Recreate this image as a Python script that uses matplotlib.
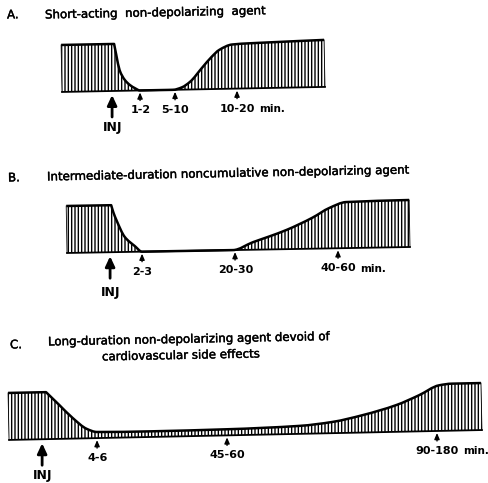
"""Schematic twitch-depression time courses for three non-depolarizing agents."""
import numpy as np
import matplotlib
matplotlib.use("Agg")
import matplotlib.pyplot as plt
import matplotlib.patheffects as pe
from matplotlib.path import Path
from matplotlib.patches import PathPatch
from matplotlib.transforms import Affine2D

W, H = 489, 483      # output size in px
HP = 47              # px height of the control (100 %) twitch
PX = 100.0 / HP      # % per px

# schematic time position and twitch height (% of control)
a_t = [62, 115, 117, 120, 125, 130, 135, 140, 173, 182, 190, 203, 212, 220, 233, 270, 325]
a_tw = [100, 100, 76, 44, 23, 12, 5, 0, 0, 5, 16, 47, 68, 83, 94, 97, 100]
a_inj = 112
a_marks = [140, 175, 237]
a_labels = ["1-2", "5-10", "10-20"]

b_t = [67, 112, 114, 117, 125, 135, 142, 233, 253, 270, 287, 313, 330, 347, 410]
b_tw = [100, 100, 85, 68, 32, 12, 0, 0, 16, 28, 41, 66, 86, 98, 100]
b_inj = 110
b_marks = [142, 235, 338]
b_labels = ["2-3", "20-30", "40-60"]

c_t = [9, 47, 60, 73, 87, 97, 150, 227, 300, 333, 363, 397, 420, 440, 453, 482]
c_tw = [100, 100, 72, 44, 20, 13, 12, 13, 17, 24, 37, 57, 77, 97, 100, 100]
c_inj = 42
c_marks = [97, 227, 437]
c_labels = ["4-6", "45-60", "90-180"]

titles = [
    ("A.", "Short-acting  non-depolarizing  agent"),
    ("B.", "Intermediate-duration noncumulative non-depolarizing agent"),
    ("C.", "Long-duration non-depolarizing agent devoid of"),
]
title_c2 = "cardiovascular side effects"

fig = plt.figure(figsize=(W / 100, H / 100), dpi=100)
heavy = [pe.withStroke(linewidth=0.3, foreground="black")]


def ftext(x, y, s, **kw):
    return fig.text(x / W, 1 - y / H, s, rotation=1.1, rotation_mode="anchor",
                    va="center", color="black", path_effects=heavy, **kw)


def smooth(t, y):
    # monotone cubic (Fritsch-Carlson) drawn as bezier segments
    x = np.asarray(t, float)
    y = np.asarray(y, float)
    h = np.diff(x)
    d = np.diff(y) / h
    m = np.zeros_like(y)
    m[0], m[-1] = d[0], d[-1]
    for k in range(1, len(x) - 1):
        if d[k - 1] * d[k] > 0:
            w1 = 2 * h[k] + h[k - 1]
            w2 = h[k] + 2 * h[k - 1]
            m[k] = (w1 + w2) / (w1 / d[k - 1] + w2 / d[k])
    verts = [(x[0], y[0])]
    for k in range(len(h)):
        verts += [(x[k] + h[k] / 3, y[k] + m[k] * h[k] / 3),
                  (x[k + 1] - h[k] / 3, y[k + 1] - m[k + 1] * h[k] / 3),
                  (x[k + 1], y[k + 1])]
    return verts


def curve(t, y, kink):
    # sharp corner where the drop starts, smooth elsewhere
    verts = smooth(t[:kink + 1], y[:kink + 1]) + smooth(t[kink:], y[kink:])[1:]
    codes = [Path.MOVETO] + [Path.CURVE4] * (len(verts) - 1)
    return verts, codes


def panel(t, tw, inj, marks, labels, base, cx, ang, inj_dy):
    ax = fig.add_axes([0, 0, 1, 1])
    ax.axis("off")
    ax.patch.set_alpha(0)
    ax.set_xlim(0, W)
    ax.set_ylim(-(H - base) * PX, base * PX)
    # the scanned original is tilted slightly
    tr = ax.transData + Affine2D().rotate_deg_around(cx, H - base, ang)

    verts, codes = curve(t, tw, 1)
    area = Path(verts + [(t[-1], 0), (t[0], 0), (t[0], 0)],
                codes + [Path.LINETO, Path.LINETO, Path.CLOSEPOLY])
    ax.add_patch(PathPatch(area, facecolor="white", edgecolor="black",
                           hatch="|||||", linewidth=0, transform=tr))
    ax.add_patch(PathPatch(Path(verts, codes), fill=False, edgecolor="black",
                           lw=1.8, joinstyle="round", transform=tr))
    ax.plot([t[0], t[-1]], [0, 0], color="black", lw=1.3, transform=tr)
    for x in (t[0], t[-1]):
        ax.plot([x, x], [0, 100], color="black", lw=0.6, transform=tr)

    ax.annotate("", xy=(inj, -4 * PX), xycoords=tr, xytext=(0, -22),
                textcoords="offset pixels",
                arrowprops=dict(arrowstyle="-|>,head_length=0.6,head_width=0.28",
                                lw=2, color="black", shrinkA=0, shrinkB=0))
    ax.annotate("INJ", xy=(inj, -inj_dy * PX), xycoords=tr, ha="center",
                va="center", fontsize=9, fontweight="bold")

    for i, (m, lab) in enumerate(zip(marks, labels)):
        ax.annotate("", xy=(m, -2 * PX), xycoords=tr, xytext=(0, -8),
                    textcoords="offset pixels",
                    arrowprops=dict(arrowstyle="-|>,head_length=0.35,head_width=0.15",
                                    lw=1, color="black", shrinkA=0, shrinkB=0))
        num = ax.annotate(lab, xy=(m, -20 * PX), xycoords=tr, ha="center",
                          va="center", fontsize=8, fontweight="bold")
        if i == len(marks) - 1:
            ax.annotate("min.", xy=(1, 0.45), xycoords=num, xytext=(4, 0),
                        textcoords="offset pixels", ha="left", va="center",
                        fontsize=7.5, fontweight="bold")
    return ax


ftext(7, 15, titles[0][0], fontsize=8.5)
ftext(45, 15, titles[0][1], fontsize=8.5)
ftext(8, 178, titles[1][0], fontsize=8.5)
ftext(47, 177, titles[1][1], fontsize=8.5)
ftext(10, 345, titles[2][0], fontsize=8.5)
ftext(48, 342, titles[2][1], fontsize=8.5)
ftext(102, 357, title_c2, fontsize=8.5)

panel(a_t, a_tw, a_inj, a_marks, a_labels, 89.5, 190, 1.1, 37)
panel(b_t, b_tw, b_inj, b_marks, b_labels, 250, 238, 1.0, 40)
panel(c_t, c_tw, c_inj, c_marks, c_labels, 435, 245, 1.2, 36)

fig.savefig("out.png", dpi=100, facecolor="white")
